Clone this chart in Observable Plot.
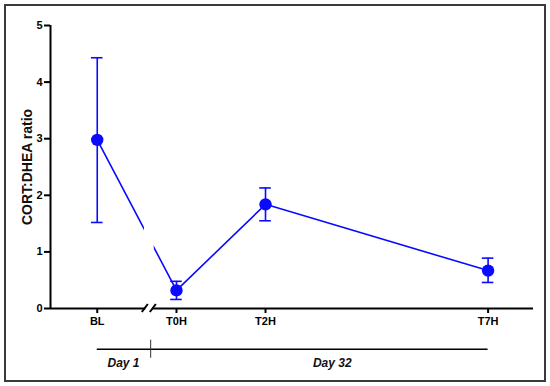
<!DOCTYPE html>
<html><head><meta charset="utf-8">
<script src="https://cdn.jsdelivr.net/npm/d3@7"></script>
<script src="https://cdn.jsdelivr.net/npm/@observablehq/plot@0.6"></script>
<style>
body{margin:0;background:#fff;}
#wrap{position:relative;width:550px;height:386px;overflow:hidden;background:#fff;}
#frame{position:absolute;left:4px;top:4px;width:538px;height:374px;border:2px solid #3a3a3a;}
#chart{position:absolute;left:0;top:0;}
</style></head><body>
<div id="wrap"><div id="frame"></div><div id="chart"></div></div>
<script>
// ---- data ----
const timepoints = ["BL", "T0H", "T2H", "T7H"];
const hours = [-1.78, 0, 2, 7];          // x position (hours on day 32; BL sits before the axis break)
const means = [2.98, 0.32, 1.84, 0.67];
const lower = [1.52, 0.16, 1.55, 0.46];
const upper = [4.43, 0.48, 2.13, 0.89];
const yTicks = [0, 1, 2, 3, 4, 5];
const axisBreak = -0.61;
const dayDivider = -0.58;
const dayLabels = ["Day 1", "Day 32"];
const dayLabelX = [-1.19, 3.5];

const data = timepoints.map((t, i) => ({t, x: hours[i], m: means[i], lo: lower[i], hi: upper[i]}));
const xDomain = [-2.83, 8.02];
const blue = "#0a0aff";
const font = "'Liberation Sans', Arial, sans-serif";
const capHalf = 0.13;

function axisBreakMark(index, scales) {
  const px = scales.x(axisBreak), py = scales.y(0);
  const g = d3.create("svg:g");
  g.append("rect").attr("x", px - 3.5).attr("y", py - 3).attr("width", 7).attr("height", 6).attr("fill", "white");
  for (const dx of [-4, 4]) {
    g.append("line").attr("x1", px + dx - 3).attr("y1", py + 4).attr("x2", px + dx + 3).attr("y2", py - 4)
      .attr("stroke", "black").attr("stroke-width", 2);
  }
  return g.node();
}

const chart = Plot.plot({
  width: 550,
  height: 386,
  marginLeft: 50,
  marginTop: 25,
  marginBottom: 78,
  marginRight: 17,
  style: {fontFamily: font, background: "transparent", overflow: "visible"},
  x: {domain: xDomain},
  y: {domain: [0, 5]},
  marks: [
    // connecting line (with a gap at the axis break)
    Plot.line(data, {x: "x", y: "m", stroke: blue, strokeWidth: 1.6}),
    Plot.rect([axisBreak], {x1: d => d - 0.11, x2: d => d + 0.11, y1: 0.1, y2: 4.9, fill: "white"}),
    // error bars
    Plot.ruleX(data, {x: "x", y1: "lo", y2: "hi", stroke: blue, strokeWidth: 1.6}),
    Plot.ruleY(data, {y: "hi", x1: d => d.x - capHalf, x2: d => d.x + capHalf, stroke: blue, strokeWidth: 1.6}),
    Plot.ruleY(data, {y: "lo", x1: d => d.x - capHalf, x2: d => d.x + capHalf, stroke: blue, strokeWidth: 1.6}),
    Plot.dot(data, {x: "x", y: "m", r: 6.2, fill: blue, stroke: "none"}),
    // axes
    Plot.axisY({ticks: yTicks, tickSize: 6, tickPadding: 2, tickFormat: d => d, label: null,
      fontSize: 11, fontWeight: "bold", strokeWidth: 2, fill: "#000"}),
    Plot.ruleX([xDomain[0]], {y1: 0, y2: 5, stroke: "black", strokeWidth: 2}),
    Plot.axisX({ticks: hours, tickFormat: d => timepoints[hours.indexOf(d)], tickSize: 5, tickPadding: 4,
      label: null, fontSize: 11, fontWeight: "bold", strokeWidth: 2, fill: "#000"}),
    Plot.ruleY([0], {stroke: "black", strokeWidth: 2}),
    axisBreakMark,
    Plot.text(["CORT:DHEA ratio"], {frameAnchor: "left", textAnchor: "middle", rotate: -90, dx: -23,
      fontSize: 14, fontWeight: "bold", fill: "#111"}),
    // day annotation below the axis
    Plot.ruleY([-0.72], {x1: hours[0], x2: hours[3], stroke: "black", strokeWidth: 1.5}),
    Plot.ruleX([dayDivider], {y1: -0.56, y2: -0.88, stroke: "#333", strokeWidth: 1}),
    Plot.text(dayLabels, {x: (d, i) => dayLabelX[i], y: -0.97, fontSize: 12, fontWeight: "bold", fontStyle: "italic", fill: "#111"})
  ]
});
document.getElementById("chart").appendChild(chart);
</script>
</body></html>
